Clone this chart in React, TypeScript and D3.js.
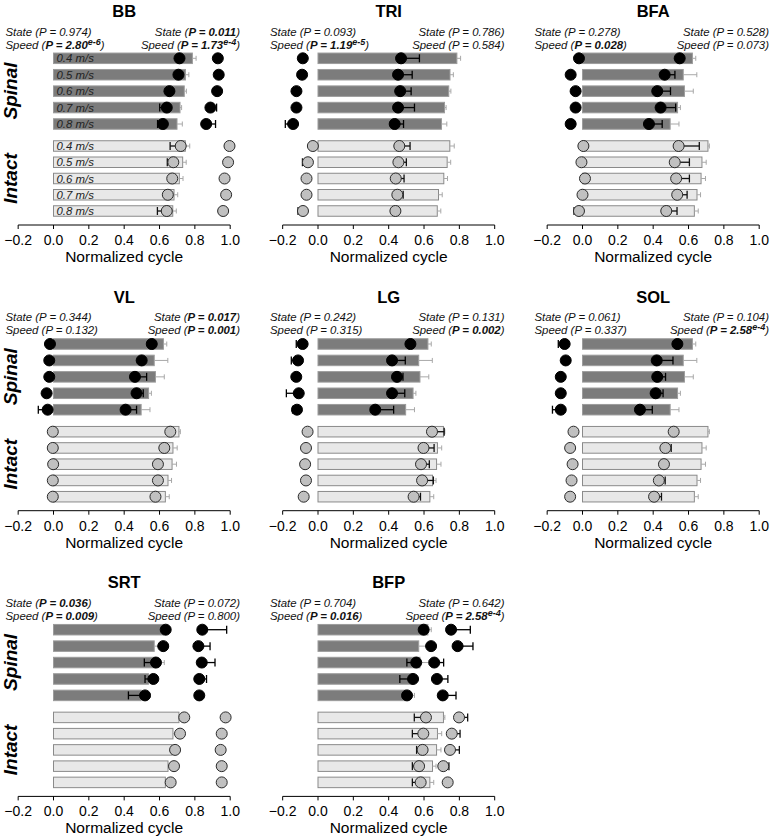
import React from "react";
import * as d3 from "d3";

// ---------- DATA ----------
const muscles = ["BB", "TRI", "BFA", "VL", "LG", "SOL", "SRT", "BFP"];
const speeds = ["0.4 m/s", "0.5 m/s", "0.6 m/s", "0.7 m/s", "0.8 m/s"];
const xTicks = [-0.2, 0, 0.2, 0.4, 0.6, 0.8, 1.0];

// bars (stance), per muscle, 5 speeds
const spinalBar = [
  [0.786, 0.747, 0.74, 0.716, 0.699],
  [0.786, 0.747, 0.74, 0.716, 0.699],
  [0.622, 0.57, 0.577, 0.538, 0.496],
  [0.622, 0.57, 0.577, 0.538, 0.496],
  [0.622, 0.57, 0.577, 0.538, 0.496],
  [0.622, 0.57, 0.577, 0.538, 0.496],
  [0.622, 0.57, 0.577, 0.538, 0.496],
  [0.622, 0.57, 0.577, 0.538, 0.496],
];
const spinalBarErr = [
  [0.021, 0.019, 0.012, 0.009, 0.03],
  [0.021, 0.019, 0.012, 0.009, 0.03],
  [0.019, 0.077, 0.05, 0.016, 0.05],
  [0.019, 0.077, 0.05, 0.016, 0.05],
  [0.019, 0.077, 0.05, 0.016, 0.05],
  [0.019, 0.077, 0.05, 0.016, 0.05],
  [0.019, 0.077, 0.05, 0.016, 0.05],
  [0.019, 0.077, 0.05, 0.016, 0.05],
];
const intactBar = [
  [0.746, 0.731, 0.712, 0.682, 0.675],
  [0.746, 0.731, 0.712, 0.682, 0.675],
  [0.71, 0.676, 0.671, 0.648, 0.633],
  [0.71, 0.676, 0.671, 0.648, 0.633],
  [0.71, 0.676, 0.671, 0.648, 0.633],
  [0.71, 0.676, 0.671, 0.648, 0.633],
  [0.71, 0.676, 0.671, 0.648, 0.633],
  [0.71, 0.676, 0.671, 0.648, 0.633],
];
const intactBarErr = [
  [0.025, 0.02, 0.021, 0.021, 0.02],
  [0.025, 0.02, 0.021, 0.021, 0.02],
  [0.008, 0.024, 0.025, 0.02, 0.022],
  [0.008, 0.024, 0.025, 0.02, 0.022],
  [0.008, 0.024, 0.025, 0.02, 0.022],
  [0.008, 0.024, 0.025, 0.02, 0.022],
  [0.008, 0.024, 0.025, 0.02, 0.022],
  [0.008, 0.024, 0.025, 0.02, 0.022],
];

// burst onset / offset (signed error: negative drawn to the left)
const spinalOnset = [
  [0.713, 0.707, 0.656, 0.641, 0.619],
  [-0.086, -0.09, -0.122, -0.122, -0.141],
  [-0.02, -0.067, -0.039, -0.039, -0.067],
  [-0.02, -0.024, -0.024, -0.039, -0.033],
  [-0.087, -0.113, -0.123, -0.109, -0.119],
  [-0.101, -0.095, -0.123, -0.123, -0.123],
  [0.635, 0.621, 0.58, 0.565, 0.518],
  [0.598, 0.64, 0.556, 0.538, 0.504],
];
const spinalOnsetErr = [
  [-0.01, -0.01, -0.01, -0.04, -0.03],
  [-0.01, -0.01, -0.01, -0.01, -0.044],
  [-0.01, -0.01, -0.01, -0.01, -0.01],
  [-0.01, -0.01, -0.01, -0.01, -0.053],
  [-0.036, -0.038, -0.01, -0.07, -0.025],
  [-0.036, -0.01, -0.01, -0.01, -0.047],
  [-0.01, -0.01, -0.066, -0.047, -0.094],
  [-0.01, -0.01, -0.053, -0.075, -0.01],
];
const spinalOffset = [
  [0.93, 0.935, 0.926, 0.888, 0.864],
  [0.47, 0.453, 0.465, 0.453, 0.434],
  [0.55, 0.465, 0.423, 0.442, 0.376],
  [0.556, 0.499, 0.461, 0.47, 0.408],
  [0.523, 0.419, 0.447, 0.419, 0.324],
  [0.537, 0.42, 0.423, 0.414, 0.325],
  [0.842, 0.82, 0.839, 0.825, 0.825],
  [0.753, 0.79, 0.658, 0.673, 0.706],
];
const spinalOffsetErr = [
  [0.01, 0.01, 0.01, 0.035, 0.053],
  [0.104, 0.08, 0.062, 0.093, 0.05],
  [0.02, 0.058, 0.075, 0.085, 0.075],
  [0.01, 0.01, 0.066, 0.038, 0.062],
  [0.01, 0.075, 0.034, 0.072, 0.104],
  [0.01, 0.092, 0.047, 0.042, 0.07],
  [0.138, 0.066, 0.075, 0.041, 0.01],
  [0.109, 0.087, 0.053, 0.062, 0.075],
];
const intactOnset = [
  [0.72, 0.678, 0.672, 0.647, 0.641],
  [-0.029, -0.057, -0.065, -0.065, -0.085],
  [0.005, -0.006, 0.014, 0.0, -0.02],
  [-0.004, -0.004, -0.002, -0.004, -0.004],
  [-0.059, -0.068, -0.073, -0.068, -0.081],
  [-0.051, -0.07, -0.056, -0.062, -0.07],
  [0.74, 0.716, 0.688, 0.682, 0.663],
  [0.611, 0.596, 0.592, 0.572, 0.581],
];
const intactOnsetErr = [
  [-0.06, -0.034, -0.01, -0.01, -0.053],
  [-0.01, -0.031, -0.01, -0.01, -0.028],
  [-0.01, -0.01, -0.01, -0.01, -0.028],
  [-0.01, -0.01, -0.01, -0.01, -0.01],
  [-0.01, -0.01, -0.01, -0.01, -0.01],
  [-0.01, -0.01, -0.01, -0.01, -0.01],
  [-0.01, -0.01, -0.01, -0.01, -0.01],
  [-0.066, -0.062, -0.034, -0.038, -0.047],
];
const intactOffset = [
  [0.996, 0.988, 0.968, 0.977, 0.96],
  [0.46, 0.455, 0.44, 0.449, 0.438],
  [0.544, 0.522, 0.53, 0.536, 0.474],
  [0.661, 0.627, 0.591, 0.591, 0.577],
  [0.645, 0.597, 0.583, 0.589, 0.541],
  [0.516, 0.469, 0.461, 0.432, 0.405],
  [0.974, 0.952, 0.946, 0.952, 0.952],
  [0.798, 0.757, 0.747, 0.709, 0.734],
];
const intactOffsetErr = [
  [0.01, 0.01, 0.01, 0.01, 0.01],
  [0.061, 0.045, 0.047, 0.033, 0.01],
  [0.117, 0.083, 0.075, 0.056, 0.061],
  [0.01, 0.01, 0.01, 0.01, 0.01],
  [0.069, 0.06, 0.047, 0.064, 0.039],
  [0.01, 0.033, 0.01, 0.036, 0.042],
  [0.01, 0.01, 0.01, 0.01, 0.01],
  [0.049, 0.047, 0.053, 0.032, 0.01],
];

// statistics text
const onsetStateP = ["0.974", "0.093", "0.278", "0.344", "0.242", "0.061", "0.036", "0.704"];
const onsetStateSig = [false, false, false, false, false, false, true, false];
const onsetSpeedP = ["2.80e-6", "1.19e-5", "0.028", "0.132", "0.315", "0.337", "0.009", "0.016"];
const onsetSpeedSig = [true, true, true, false, false, false, true, true];
const offsetStateP = ["0.011", "0.786", "0.528", "0.017", "0.131", "0.104", "0.072", "0.642"];
const offsetStateSig = [true, false, false, true, false, false, false, false];
const offsetSpeedP = ["1.73e-4", "0.584", "0.073", "0.001", "0.002", "2.58e-4", "0.800", "2.58e-4"];
const offsetSpeedSig = [true, false, false, true, true, true, false, true];

// ---------- LAYOUT ----------
const W = 771;
const H = 840;
const PX_PER_UNIT = 176.7;
const COL_X0 = 53.5;
const COL_STEP = 264.5;
const ROW_STEP = 285.7;
const FONT = "'Liberation Sans', Arial, Helvetica, sans-serif";

function PText({ x, y, anchor, name, p, sig }: any) {
  const parts = p.split("e");
  const hasExp = parts.length > 1;
  return (
    <text x={x} y={y} textAnchor={anchor} fontStyle="italic" fontSize={11.4} fontFamily={FONT} fill="#111">
      <tspan>{name} (</tspan>
      <tspan fontWeight={sig ? "bold" : "normal"}>P = {parts[0]}</tspan>
      {hasExp && (
        <tspan fontWeight="bold" fontSize={9} dy={-4}>
          e{parts[1]}
        </tspan>
      )}
      <tspan dy={hasExp ? 4 : 0}>)</tspan>
    </text>
  );
}

function ErrBar({ x, x2, y, color, cap, width }: any) {
  return (
    <g stroke={color} strokeWidth={width}>
      <line x1={x} x2={x2} y1={y} y2={y} />
      <line x1={x2} x2={x2} y1={y - cap} y2={y + cap} />
    </g>
  );
}

function Panel({ k }: { k: number }) {
  const col = k % 3;
  const row = Math.floor(k / 3);
  const x0 = COL_X0 + COL_STEP * col;
  const oy = ROW_STEP * row;
  const x = d3.scaleLinear().domain([-0.2, 1.0]).range([x0 - 0.2 * PX_PER_UNIT, x0 + PX_PER_UNIT]);
  const ySp = d3.scalePoint<string>().domain(speeds).range([oy + 58.3, oy + 124]);
  const yIn = d3.scalePoint<string>().domain(speeds).range([oy + 146, oy + 211]);
  const barH = 10.5;
  const r = 5.5;
  const axisY = oy + 225;
  const midX = x(0.4);

  const groups = [
    {
      y: ySp,
      bar: spinalBar[k],
      barErr: spinalBarErr[k],
      on: spinalOnset[k],
      onErr: spinalOnsetErr[k],
      off: spinalOffset[k],
      offErr: spinalOffsetErr[k],
      barFill: "#7c7c7c",
      barStroke: "#9c9c9c",
      dotFill: "#000",
      dotStroke: "#000",
      errColor: "#000",
    },
    {
      y: yIn,
      bar: intactBar[k],
      barErr: intactBarErr[k],
      on: intactOnset[k],
      onErr: intactOnsetErr[k],
      off: intactOffset[k],
      offErr: intactOffsetErr[k],
      barFill: "#e8e8e8",
      barStroke: "#8a8a8a",
      dotFill: "#c0c0c0",
      dotStroke: "#2a2a2a",
      errColor: "#111",
    },
  ];

  return (
    <g>
      <text x={midX} y={oy + 17} textAnchor="middle" fontWeight="bold" fontSize={16.5} fontFamily={FONT} fill="#000">
        {muscles[k]}
      </text>
      <PText x={x0 - 48} y={oy + 35.5} anchor="start" name="State" p={onsetStateP[k]} sig={onsetStateSig[k]} />
      <PText x={x0 - 48} y={oy + 48.5} anchor="start" name="Speed" p={onsetSpeedP[k]} sig={onsetSpeedSig[k]} />
      <PText x={x0 + 186.5} y={oy + 35.5} anchor="end" name="State" p={offsetStateP[k]} sig={offsetStateSig[k]} />
      <PText x={x0 + 186.5} y={oy + 48.5} anchor="end" name="Speed" p={offsetSpeedP[k]} sig={offsetSpeedSig[k]} />

      {col === 0 && (
        <g fontFamily={FONT} fontWeight="bold" fontStyle="italic" fontSize={19} fill="#000">
          <text transform={`translate(17,${oy + 91}) rotate(-90)`} textAnchor="middle">Spinal</text>
          <text transform={`translate(17,${oy + 178.5}) rotate(-90)`} textAnchor="middle">Intact</text>
        </g>
      )}

      {groups.map((g, gi) => (
        <g key={gi}>
          {speeds.map((s, i) => {
            const cy = g.y(s) as number;
            return (
              <g key={s}>
                <rect
                  x={x(0)}
                  y={cy - barH / 2}
                  width={x(g.bar[i]) - x(0)}
                  height={barH}
                  fill={g.barFill}
                  stroke={g.barStroke}
                  strokeWidth={1}
                />
                <ErrBar x={x(g.bar[i])} x2={x(g.bar[i] + g.barErr[i])} y={cy} color="#a8a8a8" cap={2.5} width={1} />
                {k === 0 && (
                  <text x={x(0) + 3} y={cy + 4} fontSize={11.4} fontStyle="italic" fontFamily={FONT} fill="#222">
                    {s}
                  </text>
                )}
              </g>
            );
          })}
          {speeds.map((s, i) => {
            const cy = g.y(s) as number;
            return (
              <g key={"d" + s}>
                <ErrBar x={x(g.on[i])} x2={x(g.on[i] + g.onErr[i])} y={cy} color={g.errColor} cap={4} width={1.3} />
                <ErrBar x={x(g.off[i])} x2={x(g.off[i] + g.offErr[i])} y={cy} color={g.errColor} cap={4} width={1.3} />
                <circle cx={x(g.on[i])} cy={cy} r={r} fill={g.dotFill} stroke={g.dotStroke} strokeWidth={1} />
                <circle cx={x(g.off[i])} cy={cy} r={r} fill={g.dotFill} stroke={g.dotStroke} strokeWidth={1} />
              </g>
            );
          })}
        </g>
      ))}

      <g>
        <line x1={x(-0.2)} x2={x(1.0)} y1={axisY} y2={axisY} stroke="#000" strokeWidth={1} />
        {xTicks.map((t) => (
          <g key={t}>
            <line x1={x(t)} x2={x(t)} y1={axisY} y2={axisY + 4} stroke="#000" strokeWidth={1} />
            <text x={x(t)} y={axisY + 20} textAnchor="middle" fontSize={14} fontFamily={FONT} fill="#000">
              {d3.format(".1f")(t)}
            </text>
          </g>
        ))}
        <text x={midX} y={axisY + 37} textAnchor="middle" fontSize={15.5} fontFamily={FONT} fill="#000">
          Normalized cycle
        </text>
      </g>
    </g>
  );
}

export default function App() {
  return (
    <svg
      width={W}
      height={H}
      viewBox={`0 0 ${W} ${H}`}
      style={{ position: "absolute", left: 0, top: 0, display: "block", background: "#fff" }}
    >
      <rect width={W} height={H} fill="#fff" />
      {muscles.map((m, k) => (
        <Panel key={m} k={k} />
      ))}
    </svg>
  );
}
